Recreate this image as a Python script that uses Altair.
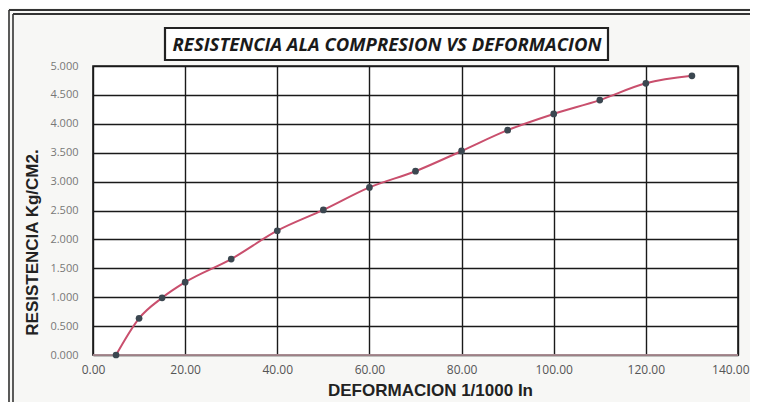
import altair as alt
import pandas as pd

deformacion = [5, 10, 15, 20, 30, 40, 50, 60, 70, 80, 90, 100, 110, 120, 130]
resistencia = [0.00, 0.635, 0.99, 1.26, 1.66, 2.15, 2.51, 2.90, 3.18, 3.53, 3.89, 4.17, 4.41, 4.70, 4.83]

x_ticks = [0, 20, 40, 60, 80, 100, 120, 140]
y_ticks = [0, 0.5, 1, 1.5, 2, 2.5, 3, 3.5, 4, 4.5, 5]

title_text = "RESISTENCIA ALA COMPRESION VS DEFORMACION"
x_title = "DEFORMACION 1/1000 In"
y_title = "RESISTENCIA Kg/CM2."

df = pd.DataFrame({"x": deformacion, "y": resistencia})

W, H = 645, 289

xs = alt.Scale(domain=[0, 140], nice=False, zero=False)
ys = alt.Scale(domain=[0, 5], nice=False)

x_axis = alt.Axis(values=x_ticks, format=".2f", title=x_title, grid=True,
                  gridColor="#1a1a1a", gridWidth=1.4, ticks=False, domain=False,
                  labelColor="#555555", labelFont="Open Sans", labelFontSize=12,
                  labelPadding=9, labelFlush=False, labelOverlap=False,
                  labelAlign={"condition": {"test": "datum.value >= 140", "value": "right"}, "value": "center"},
                  labelOffset={"condition": {"test": "datum.value >= 140", "value": 11}, "value": 0},
                  titleFont="Liberation Sans", titleFontSize=17,
                  titleFontWeight="bold", titleColor="#222222",
                  titleX=337, titleY=35, titleAnchor="start", titleAlign="center",
                  titleBaseline="middle")
y_axis = alt.Axis(values=y_ticks, format=".3f", title=y_title, grid=True,
                  gridColor="#1a1a1a", gridWidth=1.4, ticks=False, domain=False,
                  labelColor="#777777", labelFont="Open Sans", labelFontSize=11,
                  labelPadding=15, labelFlush=False, labelOverlap=False,
                  titleFont="Liberation Sans", titleFontSize=17,
                  titleFontWeight="bold", titleColor="#222222",
                  titleX=-61, titleY=176, titleAngle=270, titleAlign="center",
                  titleBaseline="middle")

X = alt.X("x:Q", scale=xs, axis=x_axis)
Y = alt.Y("y:Q", scale=ys, axis=y_axis)

base = alt.Chart(df)

line = base.mark_line(color="#c94f6d", strokeWidth=2, interpolate="monotone").encode(x=X, y=Y)
pts = base.mark_point(filled=True, color="#3b4750", size=45, opacity=1).encode(x=X, y=Y)
zero_rule = alt.Chart(pd.DataFrame({"y": [0]})).mark_rule(color="#c8a3ab", strokeWidth=1.6).encode(y=Y)

# decorative frame (scanned worksheet border) and title box
one = pd.DataFrame({"a": [0]})
frame = [
    alt.Chart(one).mark_rule(color="#333333", strokeWidth=1.6, clip=False).encode(
        x=alt.value(-84), y=alt.value(-56), y2=alt.value(H + 47)),
    alt.Chart(one).mark_rule(color="#333333", strokeWidth=1.6, clip=False).encode(
        x=alt.value(-80), y=alt.value(-52), y2=alt.value(H + 47)),
    alt.Chart(one).mark_rule(color="#333333", strokeWidth=1.8, clip=False).encode(
        x=alt.value(-84), x2=alt.value(W + 12), y=alt.value(-56)),
    alt.Chart(one).mark_rule(color="#333333", strokeWidth=1.8, clip=False).encode(
        x=alt.value(-80), x2=alt.value(W + 12), y=alt.value(-52)),
]
title_box = alt.Chart(one).mark_rect(
    fill="white", stroke="#222222", strokeWidth=2.2, clip=False).encode(
    x=alt.value(72), x2=alt.value(515), y=alt.value(-38), y2=alt.value(-6))
title_txt = alt.Chart(pd.DataFrame({"t": [title_text]})).mark_text(
    font="Open Sans", fontSize=18.5, fontWeight="bold", fontStyle="italic",
    color="#1a1a1a", align="center", baseline="middle", clip=False).encode(
    text="t:N", x=alt.value(294), y=alt.value(-21))

chart = alt.layer(line, zero_rule, pts, *frame, title_box, title_txt).properties(
    width=W, height=H,
    autosize=alt.AutoSizeParams(type="none"),
    padding={"left": 85, "top": 58, "right": 12, "bottom": 47},
    background="#f7f7f5",
).configure_view(
    stroke="#1a1a1a", strokeWidth=1.6, fill="white"
)

chart.save("out.html", embed_options={"renderer": "svg", "actions": False})
